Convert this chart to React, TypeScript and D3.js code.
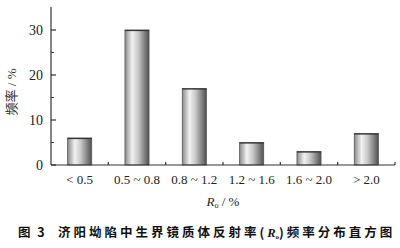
import React from "react";
import * as d3 from "d3";

const categories = ["< 0.5", "0.5 ~ 0.8", "0.8 ~ 1.2", "1.2 ~ 1.6", "1.6 ~ 2.0", "> 2.0"];
const frequency = [6, 30, 17, 5, 3, 7];
const majorTicks = [0, 10, 20, 30];
const minorTicks = [5, 15, 25];

const W = 400, H = 248;
const X0 = 51, X1 = 395, Y0 = 165, YTOP = 7;

export default function App() {
  const x = d3.scaleBand<string>().domain(categories).range([X0, X1]).paddingInner(0.58).paddingOuter(0.29);
  const y = d3.scaleLinear().domain([0, 35]).range([Y0, 7.5]);
  const step = x.step();
  const boundaries = d3.range(categories.length + 1).map(i => X0 + i * step);
  const serif = "'Liberation Serif', 'DejaVu Serif', serif";
  const cjk = "'Noto Sans CJK SC', sans-serif";
  return (
    <svg width={W} height={H} style={{ position: "absolute", left: 0, top: 0, background: "#fff" }}>
      <defs>
        <linearGradient id="cyl" x1="0" x2="1" y1="0" y2="0">
          <stop offset="0" stopColor="#8a8a8a" />
          <stop offset="0.3" stopColor="#f2f2f2" />
          <stop offset="0.55" stopColor="#c8c8c8" />
          <stop offset="1" stopColor="#505050" />
        </linearGradient>
      </defs>
      {frequency.map((v, i) => {
        const bx = x(categories[i])!;
        const bw = x.bandwidth();
        const top = y(v);
        return (
          <g key={i}>
            <rect x={bx} y={top} width={bw} height={Y0 - top} fill="url(#cyl)" stroke="#555" strokeWidth={0.8} />
            <line x1={bx} x2={bx + bw} y1={top + 0.5} y2={top + 0.5} stroke="#333" strokeWidth={1.2} />
          </g>
        );
      })}
      <line x1={X0} x2={X0} y1={YTOP} y2={Y0} stroke="#333" strokeWidth={1.2} />
      <line x1={X0} x2={X1} y1={Y0} y2={Y0} stroke="#333" strokeWidth={1.2} />
      {majorTicks.map(t => (
        <g key={"M" + t}>
          <line x1={X0} x2={X0 + 5} y1={y(t)} y2={y(t)} stroke="#333" strokeWidth={1.2} />
          <text x={43} y={y(t)} dy="0.35em" textAnchor="end" fontFamily={serif} fontSize={14} fill="#222">{t}</text>
        </g>
      ))}
      {minorTicks.map(t => (
        <line key={"m" + t} x1={X0} x2={X0 + 3} y1={y(t)} y2={y(t)} stroke="#333" strokeWidth={1} />
      ))}
      {boundaries.slice(1).map((b, i) => (
        <line key={"b" + i} x1={b} x2={b} y1={Y0} y2={Y0 - 3} stroke="#333" strokeWidth={1.2} />
      ))}
      {categories.map(c => (
        <text key={c} x={x(c)! + x.bandwidth() / 2} y={184} textAnchor="middle" fontFamily={serif} fontSize={13} fill="#222">{c}</text>
      ))}
      <text x={(X0 + X1) / 2} y={206} textAnchor="middle" fontFamily={serif} fontSize={13} fill="#222">
        <tspan fontStyle="italic">R</tspan><tspan fontSize={8} dy={2}>o</tspan><tspan dy={-2}> / %</tspan>
      </text>
      <text transform="translate(16,92) rotate(-90)" textAnchor="middle" fontFamily={serif} fontSize={13} fill="#333">
        <tspan fontFamily={cjk}>频率</tspan><tspan> / %</tspan>
      </text>
      <text x={18} y={237} fontFamily={cjk} fontSize={12.5} fontWeight="bold" fill="#111" letterSpacing={2}>图 3</text>
      <text x={58} y={237} fontFamily={cjk} fontSize={12.5} fontWeight="bold" fill="#111" letterSpacing={3}>
        济阳坳陷中生界镜质体反射率(<tspan fontFamily={serif} fontStyle="italic" fontWeight="bold" letterSpacing={0}>R</tspan><tspan fontFamily={serif} fontWeight="bold" fontSize={7} dy={2} letterSpacing={0}>o</tspan><tspan dy={-2}>)频率分布直方图</tspan>
      </text>
    </svg>
  );
}
